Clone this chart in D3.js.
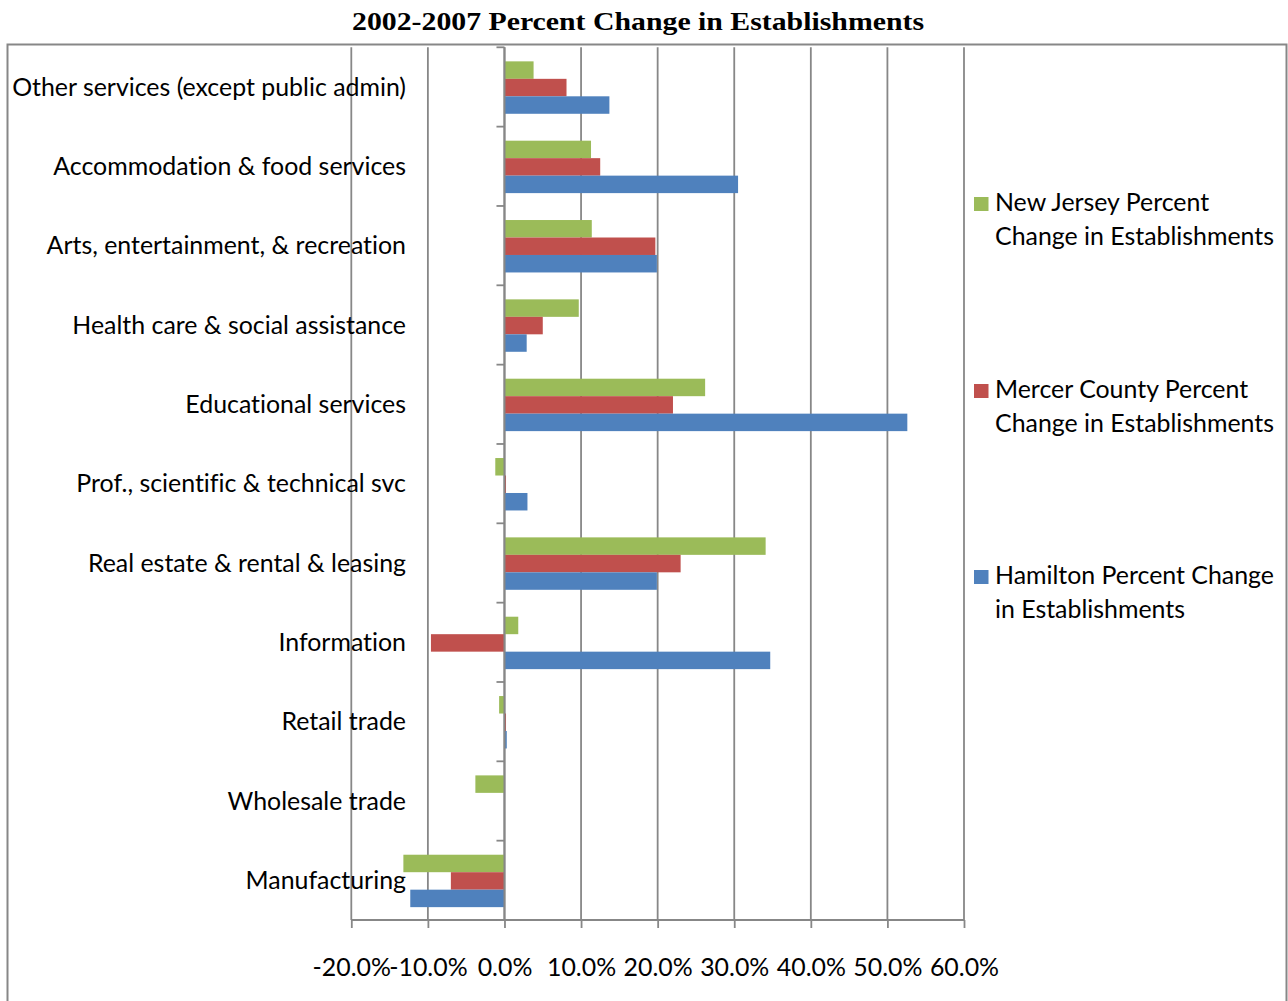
<!DOCTYPE html>
<html>
<head>
<meta charset="utf-8">
<script src="https://cdn.jsdelivr.net/npm/d3@7"></script>
<style>
  html, body { margin: 0; padding: 0; background: #fff; }
  svg { display: block; }
  text { font-family: Lato, "Open Sans", sans-serif; fill: #000; font-variant-ligatures: none; font-feature-settings: "liga" 0, "clig" 0; }
</style>
</head>
<body>
<svg id="chart" width="1288" height="1001"></svg>
<script>
const title = "2002-2007 Percent Change in Establishments";
const categories = [
  "Other services (except public admin)",
  "Accommodation & food services",
  "Arts, entertainment, & recreation",
  "Health care & social assistance",
  "Educational services",
  "Prof., scientific & technical svc",
  "Real estate & rental & leasing",
  "Information",
  "Retail trade",
  "Wholesale trade",
  "Manufacturing"
];
const seriesNames = [
  "New Jersey Percent Change in Establishments",
  "Mercer County Percent Change in Establishments",
  "Hamilton Percent Change in Establishments"
];
const legendLines = [
  ["New Jersey Percent", "Change in Establishments"],
  ["Mercer County Percent", "Change in Establishments"],
  ["Hamilton Percent Change", "in Establishments"]
];
const newJersey = [3.8, 11.3, 11.4, 9.7, 26.2, -1.2, 34.1, 1.8, -0.7, -3.8, -13.2];
const mercer    = [8.1, 12.5, 19.7, 5.0, 22.0, 0.2, 23.0, -9.6, 0.2, 0, -7.0];
const hamilton  = [13.7, 30.5, 19.9, 2.9, 52.6, 3.0, 19.9, 34.7, 0.3, 0, -12.3];
const xTicks = [-20, -10, 0, 10, 20, 30, 40, 50, 60];
const xTickLabels = ["-20.0%", "-10.0%", "0.0%", "10.0%", "20.0%", "30.0%", "40.0%", "50.0%", "60.0%"];
const colors = ["#9BBB59", "#C0504D", "#4F81BD"];

const seriesValues = [newJersey, mercer, hamilton];
const svg = d3.select("#chart");
const gridColor = "#878787";
const fontSize = 24.9;

// outer frame
svg.append("rect")
  .attr("x", 7.5).attr("y", 44.5)
  .attr("width", 1279).attr("height", 1010)
  .attr("fill", "none").attr("stroke", gridColor).attr("stroke-width", 2);

// title
svg.append("text")
  .attr("x", 638).attr("y", 30)
  .attr("text-anchor", "middle")
  .attr("textLength", 572).attr("lengthAdjust", "spacingAndGlyphs")
  .style("font-family", "'Liberation Serif', 'DejaVu Serif', serif")
  .style("font-weight", "bold")
  .style("font-size", "26px")
  .text(title);

const plotTop = 47.3, plotBottom = 920;
const x = d3.scaleLinear().domain([-20, 60]).range([351.3, 964]);
const y0 = d3.scaleBand().domain(categories).range([plotTop, plotBottom]).paddingInner(0).paddingOuter(0);
const y1 = d3.scaleBand().domain(seriesNames).range([0, y0.bandwidth()]).paddingInner(0).paddingOuter(0.77);

// gridlines
svg.append("g").selectAll("line").data(xTicks).join("line")
  .attr("x1", d => x(d)).attr("x2", d => x(d))
  .attr("y1", plotTop).attr("y2", plotBottom)
  .attr("stroke", gridColor).attr("stroke-width", 1.8);

// bars
const groups = svg.append("g").selectAll("g").data(categories).join("g")
  .attr("transform", c => `translate(0,${y0(c) + 0.6})`);
groups.selectAll("rect")
  .data((c, i) => seriesNames.map((s, j) => ({ s, j, v: seriesValues[j][i] })))
  .join("rect")
  .attr("x", d => x(Math.min(0, d.v)))
  .attr("width", d => Math.abs(x(d.v) - x(0)))
  .attr("y", d => y1(d.s))
  .attr("height", y1.bandwidth())
  .attr("fill", d => colors[d.j]);

// x axis
const xAxis = d3.axisBottom(x).tickValues(xTicks).tickSize(8).tickPadding(30)
  .tickFormat((d, i) => xTickLabels[i]);
const gx = svg.append("g").attr("transform", `translate(0,${plotBottom})`).call(xAxis);
gx.select(".domain").attr("stroke", gridColor).attr("stroke-width", 2).attr("d", `M${x(-20)},0H${x(60)}`);
gx.selectAll(".tick line").attr("stroke", gridColor).attr("stroke-width", 1.8);
gx.selectAll(".tick text").style("font-size", fontSize + "px").style("font-family", "Lato, sans-serif").attr("fill", "#000");

// y axis at zero
const yTickPos = d3.range(categories.length + 1).map(i => plotTop + i * y0.step());
const gy = svg.append("g");
gy.append("line").attr("x1", x(0)).attr("x2", x(0)).attr("y1", plotTop).attr("y2", plotBottom)
  .attr("stroke", gridColor).attr("stroke-width", 2);
gy.selectAll("line.tk").data(yTickPos).join("line").attr("class", "tk")
  .attr("x1", x(0) - 8).attr("x2", x(0)).attr("y1", d => d).attr("y2", d => d)
  .attr("stroke", gridColor).attr("stroke-width", 1.8);

// category labels
svg.append("g").selectAll("text").data(categories).join("text")
  .attr("x", 406)
  .attr("y", c => y0(c) + y0.bandwidth() / 2)
  .attr("dy", "0.35em")
  .attr("text-anchor", "end")
  .style("font-size", fontSize + "px")
  .text(c => c);

// legend
const legendBase = [211, 398, 584];
const lg = svg.append("g").selectAll("g").data(seriesNames).join("g");
lg.append("rect")
  .attr("x", 974).attr("y", (d, i) => legendBase[i] - 14)
  .attr("width", 14.5).attr("height", 14)
  .attr("fill", (d, i) => colors[i]);
lg.each(function(d, i) {
  const t = d3.select(this).append("text").attr("x", 995).attr("y", legendBase[i])
    .style("font-size", fontSize + "px");
  legendLines[i].forEach((ln, k) => {
    t.append("tspan").attr("x", 995).attr("y", legendBase[i] + k * 33.5).text(ln);
  });
});
</script>
</body>
</html>
